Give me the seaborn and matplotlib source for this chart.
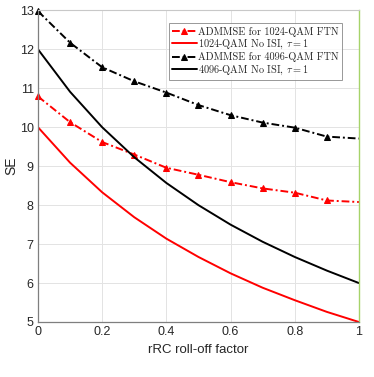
import matplotlib
matplotlib.use("Agg")
import matplotlib.pyplot as plt
import numpy as np
import pandas as pd
import seaborn as sns

# ============================================================
# DATA
# ============================================================

rolloff = [0.0, 0.1, 0.2, 0.3, 0.4, 0.5, 0.6, 0.7, 0.8, 0.9, 1.0]

admmse_1024 = [10.79, 10.13, 9.62, 9.30, 8.96, 8.78, 8.59, 8.43, 8.32, 8.12, 8.08]
no_isi_1024 = [10.0, 9.09, 8.33, 7.69, 7.14, 6.67, 6.25, 5.88, 5.56, 5.26, 5.0]
admmse_4096 = [12.98, 12.17, 11.54, 11.18, 10.89, 10.57, 10.31, 10.12, 9.99, 9.76, 9.71]
no_isi_4096 = [12.0, 10.91, 10.0, 9.23, 8.57, 8.0, 7.5, 7.06, 6.67, 6.32, 6.0]

series_labels = [
    "ADMMSE for 1024-QAM FTN",
    r"1024-QAM No ISI, $\tau=1$",
    "ADMMSE for 4096-QAM FTN",
    r"4096-QAM No ISI, $\tau=1$",
]

x_ticks = [0, 0.2, 0.4, 0.6, 0.8, 1]
x_ticklabels = ["0", "0.2", "0.4", "0.6", "0.8", "1"]
y_ticks = [5, 6, 7, 8, 9, 10, 11, 12, 13]

# ============================================================
# STYLE
# ============================================================

sns.set_style("white")
plt.rcParams["font.family"] = ["Liberation Sans", "DejaVu Sans"]
plt.rcParams["mathtext.fontset"] = "cm"

RED = "#ff0000"
BLACK = "#000000"

df = pd.DataFrame({
    "rolloff": rolloff * 4,
    "SE": admmse_1024 + no_isi_1024 + admmse_4096 + no_isi_4096,
    "series": np.repeat(series_labels, len(rolloff)),
})

fig = plt.figure(figsize=(3.74, 3.77), dpi=100)
ax = fig.add_axes([0.1016, 0.1459, 0.858, 0.8265])

styles = [
    dict(color=RED, ls=(0, (4, 1.5, 1, 1.5)), marker="^", ms=5),
    dict(color=RED, ls="-", marker=None, ms=0),
    dict(color=BLACK, ls=(0, (4, 1.5, 1, 1.5)), marker="^", ms=5),
    dict(color=BLACK, ls="-", marker=None, ms=0),
]

for label, st in zip(series_labels, styles):
    sub = df[df["series"] == label]
    sns.lineplot(data=sub, x="rolloff", y="SE", ax=ax, color=st["color"],
                 linestyle=st["ls"], linewidth=1.4, marker=st["marker"],
                 markersize=st["ms"], markeredgecolor=st["color"],
                 markevery=list(range(len(rolloff) - 1)) if st["marker"] else None,
                 label=label, clip_on=False if st["marker"] else True)

ax.set_xlim(0, 1)
ax.set_ylim(5, 13)
ax.set_xticks(x_ticks)
ax.set_xticklabels(x_ticklabels)
ax.set_yticks(y_ticks)
ax.tick_params(axis="both", labelsize=9, length=3, direction="in", width=0.6,
               pad=3, colors="#4d4d4d", labelcolor="#262626")
ax.grid(True, color="#e3e3e3", linewidth=0.7)
ax.set_axisbelow(True)

ax.set_xlabel("rRC roll-off factor", fontsize=9.5, color="#262626", labelpad=4)
ax.set_ylabel("SE", fontsize=10, color="#262626", labelpad=1)

for side in ["left", "bottom"]:
    ax.spines[side].set_color("#7f7f7f")
    ax.spines[side].set_linewidth(0.9)
ax.spines["top"].set_color("#c8c8c8")
ax.spines["top"].set_linewidth(0.8)
ax.spines["right"].set_color("#a6d36a")
ax.spines["right"].set_linewidth(1.0)

leg = ax.legend(loc="upper right", bbox_to_anchor=(0.947, 0.958),
                prop={"family": "cmr10", "size": 7.4},
                frameon=True, fancybox=False, borderpad=0.3, labelspacing=0.12,
                handlelength=2.4, handletextpad=0.15, borderaxespad=0.0)
leg.get_frame().set_edgecolor("#7f7f7f")
leg.get_frame().set_linewidth(0.7)

fig.savefig("out.png", dpi=100)
